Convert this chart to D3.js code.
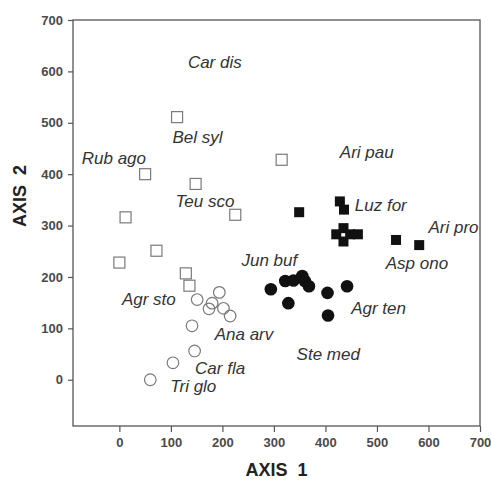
<!DOCTYPE html>
<html>
<head>
<meta charset="UTF-8">
<title>Ordination AXIS 1 / AXIS 2</title>
<script src="https://cdnjs.cloudflare.com/ajax/libs/d3/7.8.5/d3.min.js"></script>
<style>
    body { margin: 0; background: #fff; }
    svg { display: block; font-family: 'Liberation Sans', Arial, sans-serif; }
    .tick text { font-size: 13px; font-weight: bold; fill: #4a4a4a; }
    .tick line { stroke: #555; stroke-width: 1.2; }
    .lbl { font-size: 17px; font-style: italic; fill: #333; }
    .title { font-size: 18px; font-weight: bold; fill: #222; white-space: pre; }
</style>
</head>
<body>
<svg id="chart" width="491" height="488"></svg>
<script>
// axis ticks
var xTicks = [0, 100, 200, 300, 400, 500, 600, 700];
var yTicks = [0, 100, 200, 300, 400, 500, 600, 700];

// sample groups, [axis1, axis2]
var openSquares = [[0, 228], [12, 316], [50, 400], [72, 251], [112, 511], [129, 207],
    [136, 183], [148, 381], [225, 321], [315, 428]];
var openCircles = [[60, 0], [104, 33], [146, 56], [141, 105], [151, 156], [180, 149],
    [174, 138], [194, 170], [202, 139], [215, 124]];
var filledCircles = [[294, 176], [322, 192], [338, 193], [355, 202], [360, 192], [368, 182],
    [328, 149], [404, 169], [442, 182], [405, 125]];
var filledSquares = [[349, 326], [428, 347], [436, 331], [435, 295], [435, 269], [421, 283],
    [448, 283], [463, 283], [537, 272], [582, 262]];

// species names and where they sit (axis units, start of text / baseline)
var species = ["Car dis", "Bel syl", "Rub ago", "Teu sco", "Ari pau", "Luz for", "Ari pro",
    "Asp ono", "Jun buf", "Agr sto", "Ana arv", "Car fla", "Tri glo", "Agr ten", "Ste med"];
var speciesAt = [[133, 607], [103, 460], [-73, 419], [109, 337], [428, 431], [457, 329], [600, 285],
    [517, 215], [237, 222], [5, 145], [185, 78], [147, 12], [99, -23], [450, 128], [344, 39]];

var svg = d3.select("#chart");
var mLeft = 73, mRight = 480, mTop = 20, mBottom = 426;

var x = d3.scaleLinear().domain([-90, 700]).range([mLeft, mRight]);
var y = d3.scaleLinear().domain([-90, 700]).range([mBottom, mTop]);

// axes
svg.append("g")
    .attr("transform", "translate(0," + mBottom + ")")
    .call(d3.axisBottom(x).tickValues(xTicks).tickSize(6).tickPadding(6).tickSizeOuter(0))
    .call(g => g.select(".domain").remove());
svg.append("g")
    .attr("transform", "translate(" + mLeft + ",0)")
    .call(d3.axisLeft(y).tickValues(yTicks).tickSize(5).tickPadding(5).tickSizeOuter(0))
    .call(g => g.select(".domain").remove());

// frame
svg.append("rect")
    .attr("x", mLeft).attr("y", mTop)
    .attr("width", mRight - mLeft).attr("height", mBottom - mTop)
    .attr("fill", "none").attr("stroke", "#555").attr("stroke-width", 1.3);

// markers
var sq = 11;
svg.append("g").selectAll("rect").data(openSquares).enter().append("rect")
    .attr("x", d => x(d[0]) - sq / 2).attr("y", d => y(d[1]) - sq / 2)
    .attr("width", sq).attr("height", sq)
    .attr("fill", "#fff").attr("stroke", "#7a7a7a").attr("stroke-width", 1.2);

svg.append("g").selectAll("circle").data(openCircles).enter().append("circle")
    .attr("cx", d => x(d[0])).attr("cy", d => y(d[1])).attr("r", 5.8)
    .attr("fill", "none").attr("stroke", "#7a7a7a").attr("stroke-width", 1.2);

svg.append("g").selectAll("circle").data(filledCircles).enter().append("circle")
    .attr("cx", d => x(d[0])).attr("cy", d => y(d[1])).attr("r", 6.3)
    .attr("fill", "#111");

var fs = 10;
svg.append("g").selectAll("rect").data(filledSquares).enter().append("rect")
    .attr("x", d => x(d[0]) - fs / 2).attr("y", d => y(d[1]) - fs / 2)
    .attr("width", fs).attr("height", fs)
    .attr("fill", "#111");

// species labels
svg.append("g").selectAll("text").data(species).enter().append("text")
    .attr("class", "lbl")
    .attr("x", (d, i) => x(speciesAt[i][0]))
    .attr("y", (d, i) => y(speciesAt[i][1]))
    .text(d => d);

// axis titles
svg.append("text").attr("class", "title")
    .attr("x", (mLeft + mRight) / 2).attr("y", 476)
    .attr("text-anchor", "middle")
    .text("AXIS  1");
svg.append("text").attr("class", "title")
    .attr("transform", "translate(26,196) rotate(-90)")
    .attr("text-anchor", "middle")
    .text("AXIS  2");
</script>
</body>
</html>
